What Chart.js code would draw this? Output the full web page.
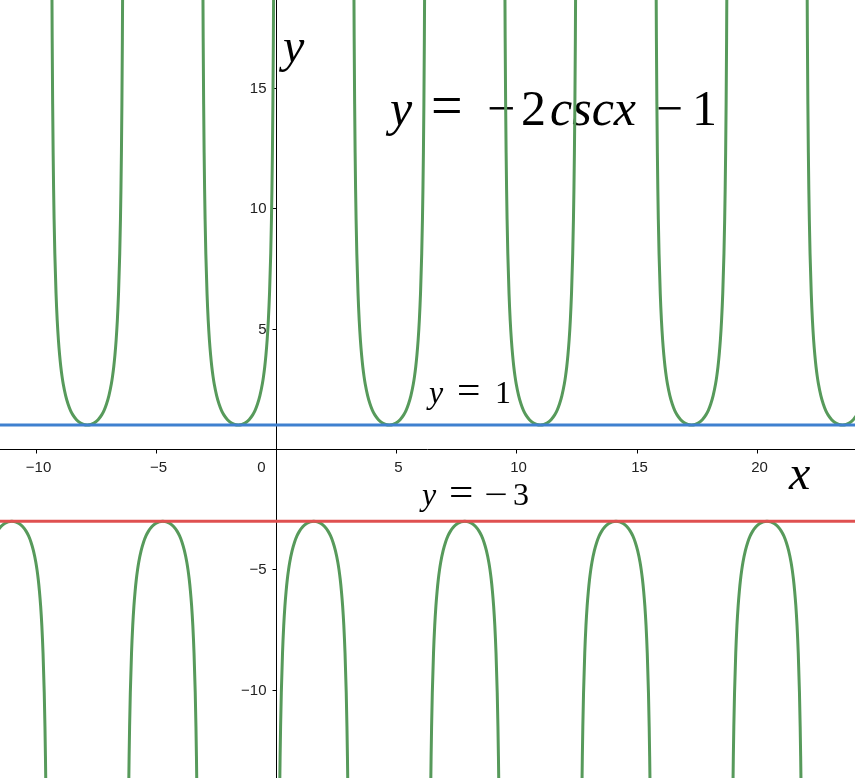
<!DOCTYPE html>
<html>
<head>
<meta charset="utf-8">
<script src="https://cdn.jsdelivr.net/npm/chart.js@4"></script>
<style>
  html, body { margin: 0; padding: 0; background: #fff; }
  #wrap { width: 855px; height: 778px; }
</style>
</head>
<body>
<div id="wrap"><canvas id="c"></canvas></div>
<script>
// view window
const xMin = -11.48, xMax = 24.08;
const yMin = -13.67, yMax = 18.66;

// tick labels
const xTicks = [-10, -5, 5, 10, 15, 20];
const yTicks = [-10, -5, 5, 10, 15];

// where each branch turns
const upperMinX = [-7.85, -1.57, 4.71, 10.99, 17.28, 23.56];   // bottoms sitting on y = 1
const lowerMaxX = [-10.99, -4.71, 1.57, 7.85, 14.14, 20.42];  // tops touching y = -3
const upperVertexY = 1;
const lowerVertexY = -3;

// shape of one branch: distance from the vertex (x) and how far the curve has climbed (y)
const branchOffset = [0, 0.15, 0.3, 0.45, 0.6, 0.7, 0.8, 0.9, 1.0, 1.05, 1.1, 1.15, 1.2, 1.25, 1.3, 1.35, 1.38, 1.4, 1.42, 1.44, 1.46, 1.48];
const branchRise   = [0, 0.02, 0.09, 0.22, 0.42, 0.61, 0.87, 1.22, 1.70, 2.02, 2.41, 2.90, 3.52, 4.34, 5.48, 7.13, 8.55, 9.77, 11.31, 13.34, 16.09, 20.06];

const green = '#579a5b';
const blue = '#3f80cf';
const red = '#df5050';

function branch(cx, vy, dir) {
    let pts = [];
    for (let i = branchOffset.length - 1; i > 0; i--) {
        pts.push({x: cx - branchOffset[i], y: vy + dir * branchRise[i]});
    }
    for (let i = 0; i < branchOffset.length; i++) {
        pts.push({x: cx + branchOffset[i], y: vy + dir * branchRise[i]});
    }
    return pts;
}

// all branches in x order, split by nulls so they don't join up
let branches = [];
for (let cx of upperMinX) branches.push(branch(cx, upperVertexY, 1));
for (let cx of lowerMaxX) branches.push(branch(cx, lowerVertexY, -1));
branches.sort((a, b) => a[0].x - b[0].x);
let curve = [];
for (let b of branches) {
    curve = curve.concat(b);
    curve.push({x: b[b.length - 1].x + 0.01, y: null});
}

// parts: [text, x, italic, stretchX, stretchY]
function mathText(ctx, parts, baseline, size) {
    for (let p of parts) {
        ctx.save();
        ctx.font = (p[2] ? 'italic ' : '') + size + 'px "Liberation Serif", "DejaVu Serif", serif';
        ctx.translate(p[1], baseline);
        ctx.scale(p[3] || 1, p[4] || 1);
        ctx.fillText(p[0], 0, 0);
        ctx.restore();
    }
}

const axesPlugin = {
    id: 'axesPlugin',
    beforeDatasetsDraw(chart) {
        const ctx = chart.ctx;
        const xs = chart.scales.x, ys = chart.scales.y;
        const ox = Math.round(xs.getPixelForValue(0)) + 0.5;
        const oy = Math.round(ys.getPixelForValue(0)) + 0.5;
        const area = chart.chartArea;

        ctx.save();
        ctx.strokeStyle = '#000';
        ctx.lineWidth = 1;
        ctx.beginPath();
        ctx.moveTo(area.left, oy); ctx.lineTo(area.right, oy);
        ctx.moveTo(ox, area.top); ctx.lineTo(ox, area.bottom);
        ctx.stroke();

        ctx.fillStyle = '#222';
        ctx.font = '15px "Liberation Sans", Arial, sans-serif';

        // x ticks
        ctx.textAlign = 'center';
        ctx.textBaseline = 'alphabetic';
        ctx.beginPath();
        for (let v of xTicks) {
            let px = Math.round(xs.getPixelForValue(v)) + 0.5;
            ctx.moveTo(px, oy); ctx.lineTo(px, oy + 4);
            ctx.fillText(String(v).replace('-', '\u2212'), px + 2, oy + 22);
        }
        ctx.stroke();
        ctx.fillText('0', ox - 15, oy + 22);

        // y ticks
        ctx.textAlign = 'right';
        ctx.textBaseline = 'middle';
        ctx.beginPath();
        for (let v of yTicks) {
            let py = Math.round(ys.getPixelForValue(v)) + 0.5;
            ctx.moveTo(ox, py); ctx.lineTo(ox - 4, py);
            ctx.fillText(String(v).replace('-', '\u2212'), ox - 10, py);
        }
        ctx.stroke();

        // math labels
        ctx.fillStyle = '#000';
        ctx.textAlign = 'left';
        ctx.textBaseline = 'alphabetic';
        mathText(ctx, [['y', 283, true]], 62, 48);
        mathText(ctx, [['x', 789, true]], 489, 48);
        mathText(ctx, [
            ['y', 390, true], ['=', 431, false, 1.12, 1.2], ['\u2212', 487, false, 1.0], ['2', 521, false],
            ['cscx', 550, true], ['\u2212', 656, false, 0.95], ['1', 692, false]
        ], 125, 50);
        mathText(ctx, [['y', 429, true], ['=', 457, false, 1.3, 1.2], ['1', 495, false]], 403, 32);
        mathText(ctx, [['y', 422, true], ['=', 449, false, 1.35, 1.2], ['\u2212', 484, false, 1.3], ['3', 513, false]], 505, 32);
        ctx.restore();
    }
};

new Chart(document.getElementById('c'), {
    type: 'scatter',
    data: {
        datasets: [
            {
                data: [{x: xMin, y: upperVertexY}, {x: xMax, y: upperVertexY}],
                showLine: true, borderColor: blue, borderWidth: 3, pointRadius: 0
            },
            {
                data: [{x: xMin, y: lowerVertexY}, {x: xMax, y: lowerVertexY}],
                showLine: true, borderColor: red, borderWidth: 3, pointRadius: 0
            },
            {
                data: curve,
                showLine: true, borderColor: green, borderWidth: 3, pointRadius: 0,
                spanGaps: false, cubicInterpolationMode: 'monotone'
            }
        ]
    },
    options: {
        responsive: true,
        maintainAspectRatio: false,
        animation: false,
        layout: { padding: 0 },
        plugins: { legend: { display: false }, tooltip: { enabled: false } },
        scales: {
            x: { type: 'linear', min: xMin, max: xMax, display: false },
            y: { type: 'linear', min: yMin, max: yMax, display: false }
        }
    },
    plugins: [axesPlugin]
});
</script>
</body>
</html>
